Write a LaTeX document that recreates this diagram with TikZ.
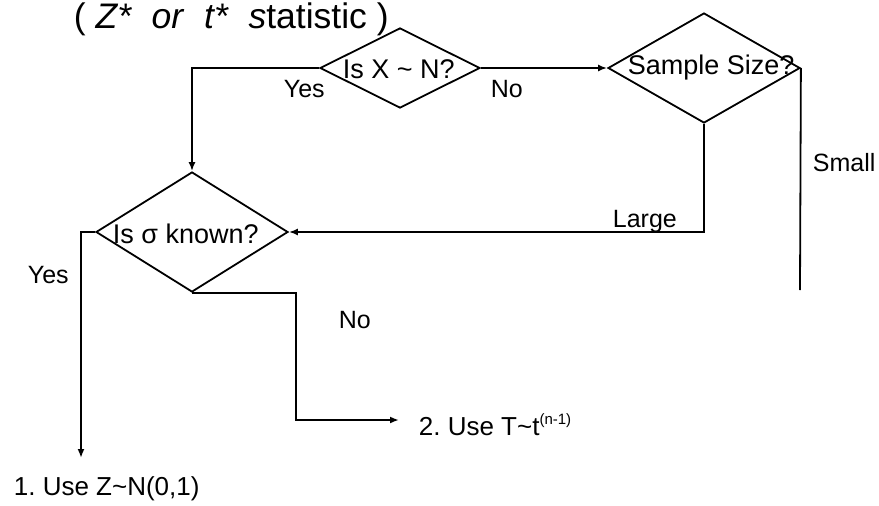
\documentclass[tikz,border=0pt]{standalone}
\usepackage{fontspec}
\setmainfont{Liberation Sans}
\usetikzlibrary{shapes.geometric,arrows.meta}
\frenchspacing
\begin{document}
\begin{tikzpicture}[x=1pt,y=-1pt,
  line width=1.8pt,
  dia/.style={draw,shape=diamond,inner sep=0pt,line width=1.8pt},
  lbl/.style={anchor=base west,inner sep=0pt,font=\fontsize{25}{28}\selectfont},
  dtxt/.style={anchor=base west,inner sep=0pt,font=\fontsize{27}{30}\selectfont},
  res/.style={anchor=base west,inner sep=0pt,font=\fontsize{26}{30}\selectfont},
  arr/.style={-{Latex[length=9pt,width=7pt]}}
]
\useasboundingbox (0,0) rectangle (879,506);
% title
\node[anchor=base west,inner sep=0pt,font=\fontsize{35.5}{40}\selectfont] (title) at (73,28)
  {( \textit{Z*}\ \ \textit{or}\ \ \textit{t*}\ \ \textit{s}tatistic )};
% diamonds
\node[dia,minimum width=160pt,minimum height=80pt] (isx) at (400,68) {};
\node[dia,minimum width=192pt,minimum height=110pt] (ss) at (704,68) {};
\node[dia,minimum width=192pt,minimum height=120pt] (sig) at (192,232) {};
% diamond texts
\node[dtxt] (tisx) at (342,78) {Is X \textasciitilde\ N?};
\node[dtxt] (tss) at (627,74) {Sample Size?};
\node[dtxt] (tsig) at (112,243) {Is σ known?};
% results
\node[res] (z) at (13,495) {1. Use Z\textasciitilde N(0,1)};
\node[res] (t) at (418,435) {2. Use T\textasciitilde t\raisebox{0.42em}{\fontsize{15}{15}\selectfont(n-1)}};
% labels
\node[lbl] (yes1) at (283,97) {Yes};
\node[lbl] (no1) at (490,97) {No};
\node[lbl] (small) at (812,171) {Small};
\node[lbl] (large) at (612,227) {Large};
\node[lbl] (yes2) at (27,283) {Yes};
\node[lbl] (no2) at (338,328) {No};
% coordinates
\coordinate (smallend) at (800,290);
\coordinate (ztip) at (81,458);
\coordinate (ncorner) at (296,420);
\coordinate (ttip) at (399,420);
% connectors
\draw[arr] (isx.west) -| (sig.north);
\draw[arr] (isx.east) -- (ss.west);
\draw (ss.east) -- (smallend);
\draw[arr] (ss.south) |- (sig.east);
\draw[arr] (sig.west) -| (ztip);
\draw[arr] (sig.south) -| (ncorner) -- (ttip);
\end{tikzpicture}
\end{document}
